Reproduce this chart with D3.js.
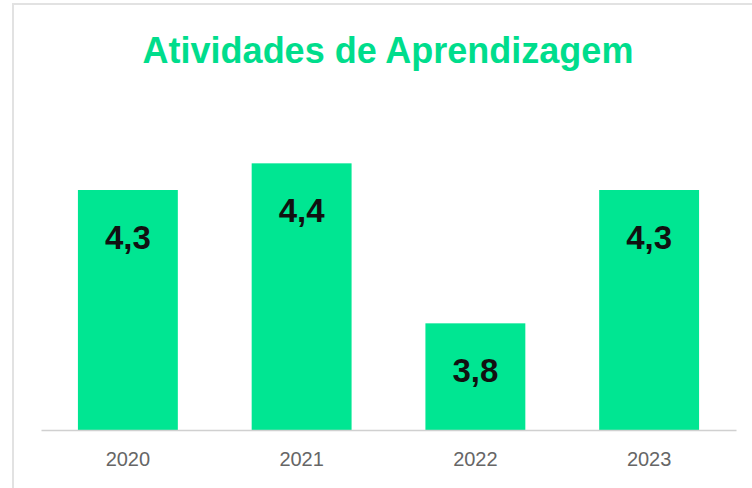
<!DOCTYPE html>
<html>
<head>
<meta charset="utf-8">
<script src="https://cdn.jsdelivr.net/npm/d3@7"></script>
<style>
	html, body { margin: 0; padding: 0; background: #fff; }
	svg { display: block; }
</style>
</head>
<body>
<div id="chart"></div>
<script>
const title = 'Atividades de Aprendizagem'
const years = ['2020', '2021', '2022', '2023']
const values = [4.3, 4.4, 3.8, 4.3]

const width = 752
const height = 488
const green = '#00E692'

const svg = d3
	.select('#chart')
	.append('svg')
	.attr('width', width)
	.attr('height', height)

// frame (only top and left edges fall inside the picture)
svg.append('rect')
	.attr('x', 13)
	.attr('y', 4)
	.attr('width', 900)
	.attr('height', 700)
	.attr('fill', 'none')
	.attr('stroke', '#e2e2e2')
	.attr('stroke-width', 2)

svg.append('text')
	.attr('x', 388)
	.attr('y', 63)
	.attr('text-anchor', 'middle')
	.attr('font-family', 'Liberation Sans, Arial, sans-serif')
	.attr('font-weight', 700)
	.attr('font-size', '36px')
	.attr('fill', '#00DD8C')
	.text(title)

const x = d3
	.scaleBand()
	.domain(years)
	.range([41, 736])
	.paddingInner(0.425)
	.paddingOuter(0.2125)

const y = d3.scaleLinear().domain([3.4, 4.6]).range([430, 110])

const data = years.map((d, i) => ({ year: d, value: values[i] }))

svg.append('g')
	.selectAll('rect')
	.data(data)
	.join('rect')
	.attr('x', d => x(d.year))
	.attr('y', d => y(d.value))
	.attr('width', x.bandwidth())
	.attr('height', d => y.range()[0] - y(d.value))
	.attr('fill', green)

const fmt = d3.formatLocale({ decimal: ',', thousands: '.', grouping: [3], currency: ['R$', ''] }).format('.1f')

svg.append('g')
	.selectAll('text')
	.data(data)
	.join('text')
	.attr('x', d => x(d.year) + x.bandwidth() / 2)
	.attr('y', d => y(d.value) + 59)
	.attr('text-anchor', 'middle')
	.attr('font-family', 'Liberation Sans, Arial, sans-serif')
	.attr('font-weight', 700)
	.attr('font-size', '33px')
	.attr('fill', '#111')
	.text(d => fmt(d.value))

const xAxis = svg
	.append('g')
	.attr('transform', 'translate(0,430)')
	.call(d3.axisBottom(x).tickSize(0).tickPadding(22).tickSizeOuter(0))

xAxis.select('.domain').attr('stroke', '#d0d0d0').attr('stroke-width', 1.5)
xAxis.selectAll('text')
	.attr('font-family', 'Liberation Sans, Arial, sans-serif')
	.attr('font-size', '20px')
	.attr('fill', '#666')
</script>
</body>
</html>
